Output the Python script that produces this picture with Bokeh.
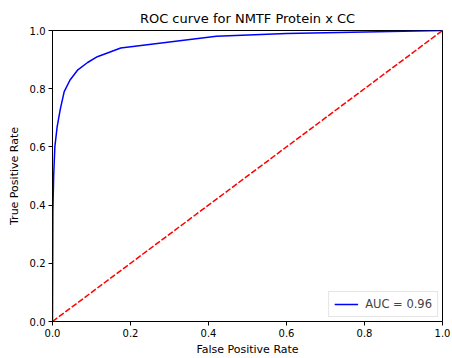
from bokeh.plotting import figure
from bokeh.models import FixedTicker, Range1d, Legend, LegendItem
from bokeh.embed import file_html
from bokeh.resources import INLINE

fpr = [0.0, 0.001, 0.003, 0.006, 0.012, 0.02, 0.03, 0.045, 0.065, 0.09, 0.115, 0.175, 0.42, 0.6, 0.8, 1.0]
tpr = [0.0, 0.38, 0.5, 0.6, 0.67, 0.73, 0.79, 0.83, 0.865, 0.89, 0.91, 0.94, 0.98, 0.99, 0.995, 1.0]
diag = [0.0, 1.0]
ticks = [0.0, 0.2, 0.4, 0.6, 0.8, 1.0]
title = "ROC curve for NMTF Protein x CC"
auc_label = "AUC = 0.96"

FONT = "DejaVu Sans"

p = figure(width=452, height=358, output_backend="svg", toolbar_location=None,
           x_range=Range1d(0, 1), y_range=Range1d(0, 1),
           min_border_left=52, min_border_right=10, min_border_top=30, min_border_bottom=36)
p.title.text = title
p.title.align = "center"
p.title.text_font = FONT
p.title.text_font_size = "13px"
p.title.text_font_style = "normal"
p.title.text_color = "black"
p.title.offset = 0

p.grid.visible = False
p.outline_line_color = "black"
p.outline_line_width = 1
p.background_fill_color = "white"
p.border_fill_color = "white"

for ax in (p.xaxis[0], p.yaxis[0]):
    ax.ticker = FixedTicker(ticks=ticks)
    ax.major_label_overrides = {t: f"{t:.1f}" for t in ticks}
    ax.minor_tick_line_color = None
    ax.major_tick_out = 4
    ax.major_tick_in = 0
    ax.axis_line_color = "black"
    ax.major_tick_line_color = "black"
    ax.major_label_text_font = FONT
    ax.major_label_text_font_size = "10px"
    ax.major_label_text_color = "black"
    ax.axis_label_text_font = FONT
    ax.axis_label_text_font_size = "11px"
    ax.axis_label_text_font_style = "normal"
    ax.axis_label_text_color = "black"
    ax.major_label_standoff = 3
p.xaxis.axis_label = "False Positive Rate"
p.yaxis.axis_label = "True Positive Rate"
p.xaxis.axis_label_standoff = 3
p.yaxis.axis_label_standoff = 6

roc = p.line(fpr, tpr, line_color="blue", line_width=1.5)
p.line(diag, diag, line_color="red", line_width=1.5, line_dash="6 2")

legend = Legend(items=[LegendItem(label=auc_label, renderers=[roc])], location="bottom_right")
legend.label_text_font = FONT
legend.label_text_font_size = "11.5px"
legend.border_line_color = "#cccccc"
legend.border_line_width = 1
legend.margin = 4
legend.padding = 5
legend.spacing = 0
legend.glyph_width = 24
legend.glyph_height = 12
legend.label_standoff = 7
legend.background_fill_alpha = 0.8
p.add_layout(legend)

open("out.html", "w").write(file_html(p, INLINE))
